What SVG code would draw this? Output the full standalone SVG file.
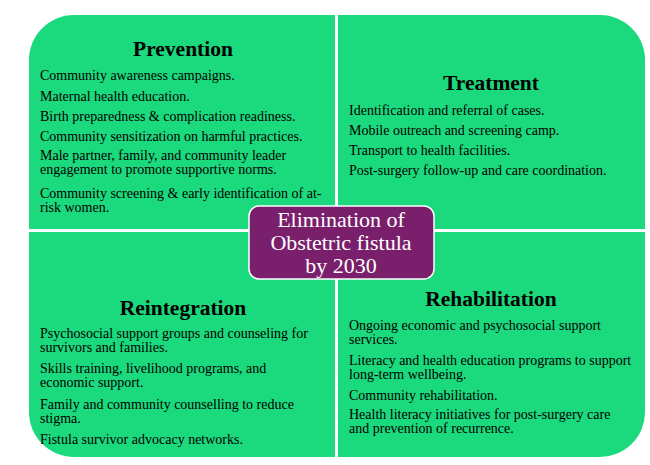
<svg xmlns="http://www.w3.org/2000/svg" width="650" height="465" viewBox="0 0 650 465">
<style>
.q{fill:#1BD97D;}
.h{font-family:"Liberation Serif",serif;font-weight:bold;font-size:21.5px;fill:#000;text-anchor:middle;}
.t{font-family:"Liberation Serif",serif;font-size:14px;fill:#000;}
.c{font-family:"Liberation Serif",serif;font-size:22px;fill:#fff;text-anchor:middle;}
</style>
<rect width="650" height="465" fill="#fff"/>
<g id="prevention">
<path class="q" d="M29,229 V60 A45,45 0 0 1 74,15 H335 V229 Z"/>
<text class="h" x="183" y="56">Prevention</text>
<text class="t" x="40" y="80">Community awareness campaigns.</text>
<text class="t" x="40" y="101">Maternal health education.</text>
<text class="t" x="40" y="121">Birth preparedness &amp; complication readiness.</text>
<text class="t" x="40" y="141">Community sensitization on harmful practices.</text>
<text class="t" x="40" y="160">Male partner, family, and community leader</text>
<text class="t" x="40" y="174">engagement to promote supportive norms.</text>
<text class="t" x="40" y="198">Community screening &amp; early identification of at-</text>
<text class="t" x="40" y="212">risk women.</text>
</g>
<g id="treatment">
<path class="q" d="M338,15 H600 A45,45 0 0 1 645,60 V229 H338 Z"/>
<text class="h" x="491" y="90">Treatment</text>
<text class="t" x="349" y="115">Identification and referral of cases.</text>
<text class="t" x="349" y="135">Mobile outreach and screening camp.</text>
<text class="t" x="349" y="155">Transport to health facilities.</text>
<text class="t" x="349" y="175">Post-surgery follow-up and care coordination.</text>
</g>
<g id="reintegration">
<path class="q" d="M29,232 H335 V457 H74 A45,45 0 0 1 29,412 Z"/>
<text class="h" x="183" y="315">Reintegration</text>
<text class="t" x="40" y="338">Psychosocial support groups and counseling for</text>
<text class="t" x="40" y="352">survivors and families.</text>
<text class="t" x="40" y="373">Skills training, livelihood programs, and</text>
<text class="t" x="40" y="387">economic support.</text>
<text class="t" x="40" y="409">Family and community counselling to reduce</text>
<text class="t" x="40" y="423">stigma.</text>
<text class="t" x="40" y="444">Fistula survivor advocacy networks.</text>
</g>
<g id="rehabilitation">
<path class="q" d="M338,232 H645 V412 A45,45 0 0 1 600,457 H338 Z"/>
<text class="h" x="491" y="306">Rehabilitation</text>
<text class="t" x="349" y="330">Ongoing economic and psychosocial support</text>
<text class="t" x="349" y="344">services.</text>
<text class="t" x="349" y="365">Literacy and health education programs to support</text>
<text class="t" x="349" y="379">long-term wellbeing.</text>
<text class="t" x="349" y="400">Community rehabilitation.</text>
<text class="t" x="349" y="419">Health literacy initiatives for post-surgery care</text>
<text class="t" x="349" y="433">and prevention of recurrence.</text>
</g>
<g id="center">
<rect x="249" y="206" width="185" height="73" rx="10" fill="#7A1F6B" stroke="#fff" stroke-width="1.5"/>
<text class="c" x="341" y="227">Elimination of</text>
<text class="c" x="341" y="250">Obstetric fistula</text>
<text class="c" x="341" y="273">by 2030</text>
</g>
</svg>
